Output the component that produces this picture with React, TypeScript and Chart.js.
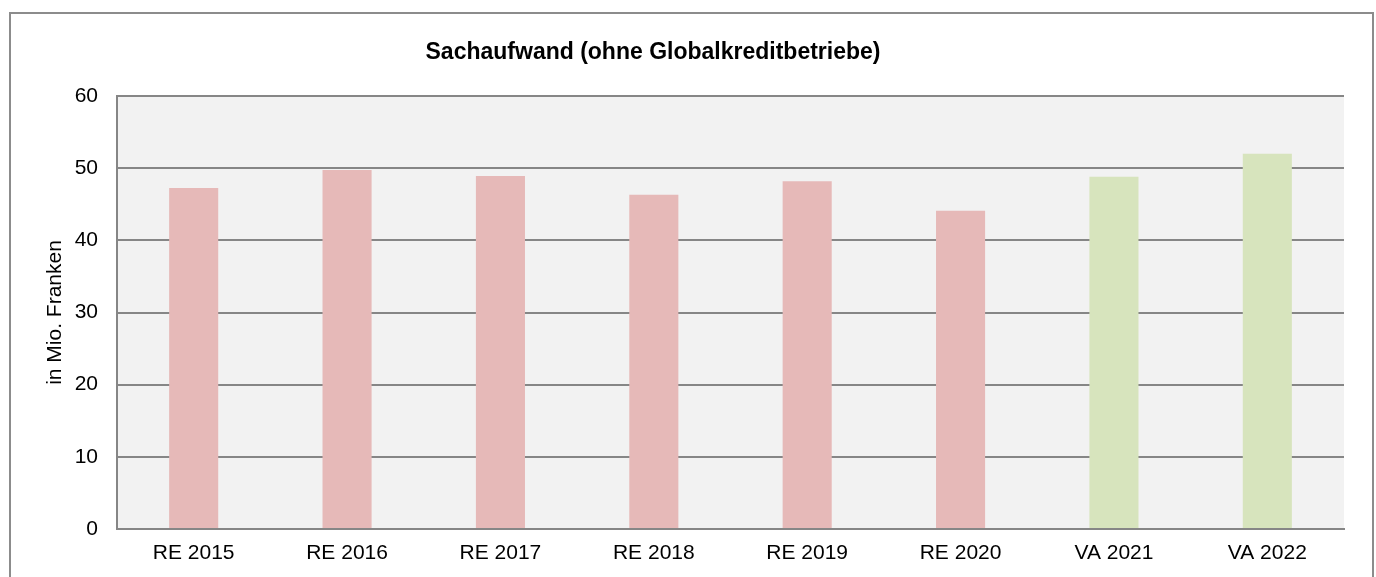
import { useEffect, useRef } from 'react';
import { Chart, registerables } from 'chart.js';

Chart.register(...registerables);

const categories = ['RE 2015', 'RE 2016', 'RE 2017', 'RE 2018', 'RE 2019', 'RE 2020', 'VA 2021', 'VA 2022'];
const values = [47.25, 49.75, 48.9, 46.3, 48.2, 44.1, 48.8, 52.0];
const barColors = ['#E6B9B8', '#E6B9B8', '#E6B9B8', '#E6B9B8', '#E6B9B8', '#E6B9B8', '#D7E4BD', '#D7E4BD'];
const yMin = 0;
const yMax = 60;
const yStep = 10;
const titleText = 'Sachaufwand (ohne Globalkreditbetriebe)';
const yAxisTitle = 'in Mio. Franken';

const FONT = "'Liberation Sans', Arial, sans-serif";
const GRID = '#868686';

const framePlugin = {
  id: 'framePlugin',
  beforeDraw(chart: any) {
    const { ctx, chartArea } = chart;
    ctx.save();
    ctx.fillStyle = '#ffffff';
    ctx.fillRect(0, 0, chart.width, chart.height);
    ctx.strokeStyle = '#8c8c8c';
    ctx.lineWidth = 2;
    ctx.strokeRect(10, 13, 1363, 700);
    ctx.fillStyle = '#F2F2F2';
    ctx.fillRect(chartArea.left, chartArea.top, chartArea.right - chartArea.left, chartArea.bottom - chartArea.top);
    ctx.restore();
  },
  afterDraw(chart: any) {
    const { ctx } = chart;
    ctx.save();
    ctx.fillStyle = '#000000';
    ctx.font = `bold 23px ${FONT}`;
    ctx.textAlign = 'center';
    ctx.textBaseline = 'alphabetic';
    ctx.fillText(titleText, 653, 59);
    ctx.restore();
  },
};

export default function App() {
  const ref = useRef<HTMLCanvasElement | null>(null);

  useEffect(() => {
    if (!ref.current) return;
    const chart = new Chart(ref.current, {
      type: 'bar',
      data: {
        labels: categories,
        datasets: [
          {
            data: values,
            backgroundColor: barColors,
            borderWidth: 0,
            barPercentage: 0.32,
            categoryPercentage: 1.0,
          },
        ],
      },
      options: {
        responsive: false,
        animation: false,
        devicePixelRatio: 1,
        layout: { padding: { top: 96, right: 32, left: 0, bottom: 0 } },
        plugins: {
          legend: { display: false },
          tooltip: { enabled: false },
          title: { display: false },
        },
        scales: {
          x: {
            grid: { display: false, drawTicks: false },
            border: { display: true, color: GRID, width: 2 },
            ticks: {
              color: '#000',
              font: { family: FONT, size: 21 },
              padding: 12,
              maxRotation: 0,
              autoSkip: false,
            },
            afterFit(scale: any) {
              scale.height = 48;
            },
          },
          y: {
            min: yMin,
            max: yMax,
            grid: { color: GRID, lineWidth: 2, drawTicks: false },
            border: { display: true, color: GRID, width: 2 },
            ticks: {
              stepSize: yStep,
              color: '#000',
              font: { family: FONT, size: 21 },
              padding: 19,
            },
            title: {
              display: true,
              text: yAxisTitle,
              color: '#000',
              font: { family: FONT, size: 21 },
              padding: { top: 43, bottom: 0 },
            },
            afterFit(scale: any) {
              scale.width = 117;
            },
          },
        },
      },
      plugins: [framePlugin],
    });
    return () => chart.destroy();
  }, []);

  return (
    <canvas
      ref={ref}
      width={1376}
      height={577}
      style={{ position: 'absolute', left: 0, top: 0, width: 1376, height: 577 }}
    />
  );
}
